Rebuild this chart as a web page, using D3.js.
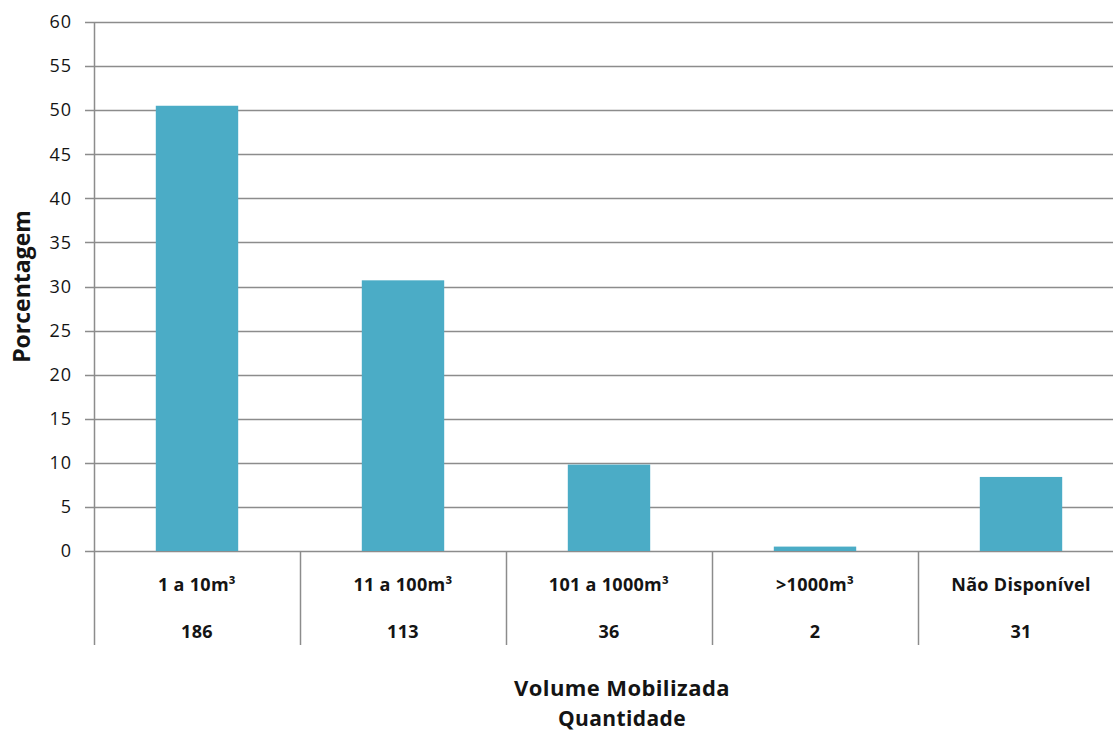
<!DOCTYPE html>
<html>
<head>
<meta charset="utf-8">
<script src="https://cdn.jsdelivr.net/npm/d3@7"></script>
<style>
  html, body { margin: 0; padding: 0; background: #fff; }
  svg { display: block; }
  text { font-family: "Open Sans", "Noto Sans", sans-serif; }
</style>
</head>
<body>
<svg id="chart" width="1113" height="735"></svg>
<script>
// Volume classes, share of events (%) and event counts
const categories = ["1 a 10m³", "11 a 100m³", "101 a 1000m³", ">1000m³", "Não Disponível"];
const percentages = [50.5, 30.7, 9.8, 0.5, 8.4];
const counts = ["186", "113", "36", "2", "31"];
const yTicks = [0, 5, 10, 15, 20, 25, 30, 35, 40, 45, 50, 55, 60];

const svg = d3.select("#chart");
const plotLeft = 94, plotRight = 1124, plotTop = 22, plotBottom = 551;

const x = d3.scaleBand().domain(categories).range([plotLeft, plotRight]).paddingInner(0).paddingOuter(0);
const y = d3.scaleLinear().domain([0, 60]).range([plotBottom, plotTop]);

const gridColor = "#8c8c8c";
const textColor = "#141414";

// horizontal gridlines with short ticks to the left of the axis
svg.append("g")
  .selectAll("line")
  .data(yTicks)
  .join("line")
  .attr("x1", plotLeft - 9)
  .attr("x2", 1113)
  .attr("y1", d => Math.round(y(d)) + 0.5)
  .attr("y2", d => Math.round(y(d)) + 0.5)
  .attr("stroke", gridColor)
  .attr("stroke-width", 1.5);

// y tick labels
svg.append("g")
  .selectAll("text")
  .data(yTicks)
  .join("text")
  .attr("x", 72)
  .attr("y", d => y(d))
  .attr("dy", "0.35em")
  .attr("text-anchor", "end")
  .attr("font-size", 18)
  .attr("letter-spacing", 1)
  .attr("fill", textColor)
  .text(d => d);

// bars
const barW = x.bandwidth() * 0.4;
svg.append("g")
  .selectAll("rect")
  .data(categories)
  .join("rect")
  .attr("x", (d) => x(d) + (x.bandwidth() - barW) / 2)
  .attr("y", (d, i) => y(percentages[i]))
  .attr("width", barW)
  .attr("height", (d, i) => y(0) - y(percentages[i]))
  .attr("fill", "#4bacc6");

// y axis line
svg.append("line")
  .attr("x1", plotLeft + 0.5).attr("x2", plotLeft + 0.5)
  .attr("y1", plotTop).attr("y2", 645)
  .attr("stroke", gridColor).attr("stroke-width", 1.5);

// category separators below the baseline
svg.append("g")
  .selectAll("line")
  .data(categories.slice(1))
  .join("line")
  .attr("x1", d => Math.round(x(d)) + 0.5)
  .attr("x2", d => Math.round(x(d)) + 0.5)
  .attr("y1", plotBottom)
  .attr("y2", 645)
  .attr("stroke", gridColor)
  .attr("stroke-width", 1.5);

// category labels (two rows: class and count)
const labels = svg.append("g")
  .attr("font-weight", "bold")
  .attr("font-size", 18)
  .attr("letter-spacing", 0.3)
  .attr("fill", textColor)
  .attr("text-anchor", "middle");
labels.selectAll("text.cat")
  .data(categories)
  .join("text")
  .attr("class", "cat")
  .attr("x", d => x(d) + x.bandwidth() / 2)
  .attr("y", 585)
  .attr("dy", "0.35em")
  .text(d => d);
labels.selectAll("text.cnt")
  .data(categories)
  .join("text")
  .attr("class", "cnt")
  .attr("x", d => x(d) + x.bandwidth() / 2)
  .attr("y", 632)
  .attr("dy", "0.35em")
  .text((d, i) => counts[i]);

// axis titles
svg.append("text")
  .attr("transform", `translate(22, ${(plotTop + plotBottom) / 2}) rotate(-90)`)
  .attr("text-anchor", "middle")
  .attr("dy", "0.35em")
  .attr("font-weight", "bold")
  .attr("font-size", 23)
  .attr("fill", textColor)
  .text("Porcentagem");

svg.append("text")
  .attr("x", 622).attr("y", 688)
  .attr("text-anchor", "middle").attr("dy", "0.35em")
  .attr("font-weight", "bold").attr("font-size", 22).attr("letter-spacing", 0.4).attr("fill", textColor)
  .text("Volume Mobilizada");
svg.append("text")
  .attr("x", 622).attr("y", 719)
  .attr("text-anchor", "middle").attr("dy", "0.35em")
  .attr("font-weight", "bold").attr("font-size", 21).attr("letter-spacing", 0.4).attr("fill", textColor)
  .text("Quantidade");
</script>
</body>
</html>
